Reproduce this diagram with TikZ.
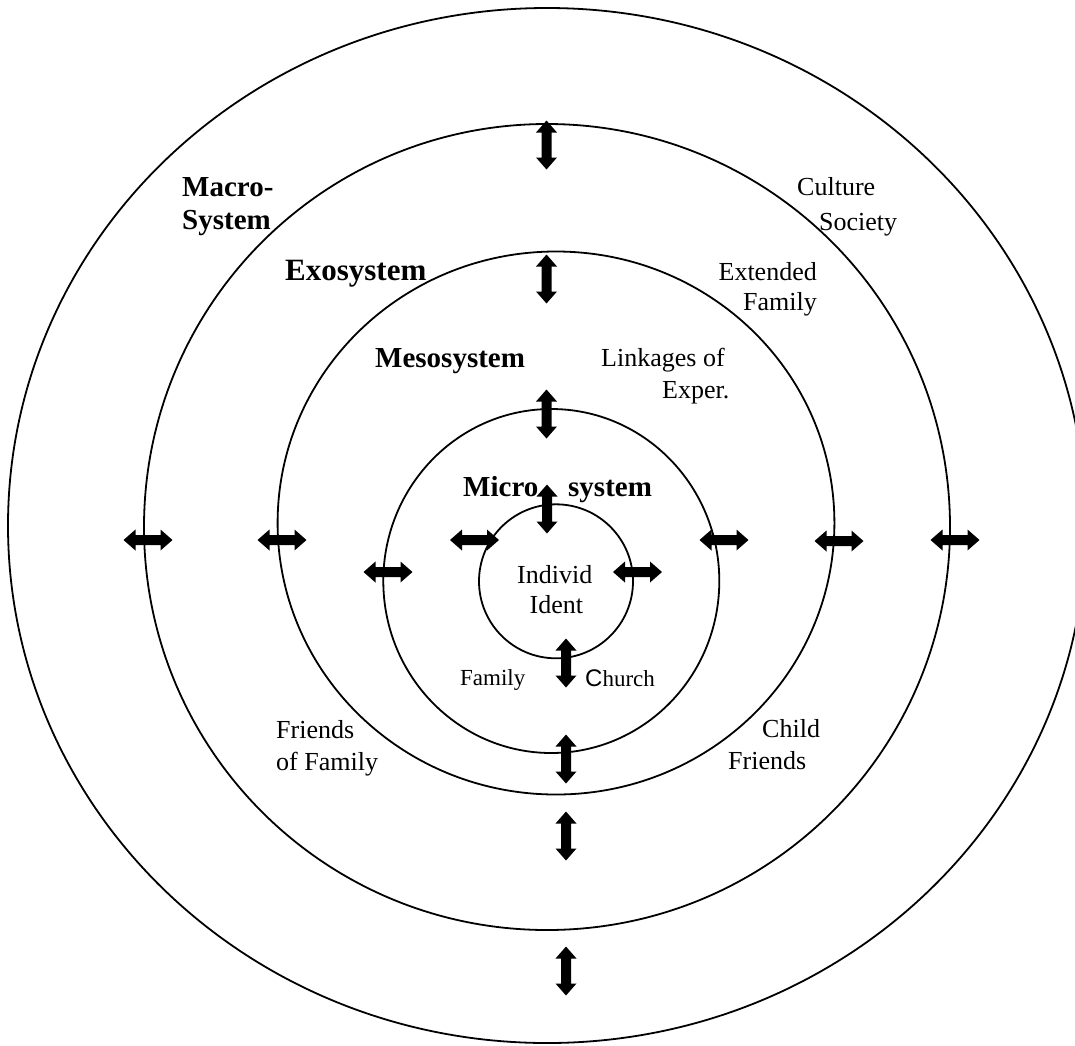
\documentclass[tikz,border=0pt]{standalone}
\usepackage{fontspec}
\setmainfont{Liberation Serif}
\newfontfamily\arialfont{Liberation Sans}
\begin{document}
\begin{tikzpicture}[x=1pt,y=-1pt,
  ring/.style={line width=1.8},
  lbl/.style={inner sep=0pt,anchor=base west,font=\fontsize{26}{30}\selectfont},
  lble/.style={lbl,anchor=base east},
  blbl/.style={inner sep=0pt,anchor=base west,font=\fontsize{29}{33}\selectfont\bfseries},
  harr/.pic={\fill[black] (-24.5,0) -- (-12.5,-10.5) -- (-12.5,-5) -- (12.5,-5) -- (12.5,-10.5) -- (24.5,0) -- (12.5,10.5) -- (12.5,5) -- (-12.5,5) -- (-12.5,10.5) -- cycle;},
  varr/.pic={\fill[black] (0,-24.5) -- (-10.5,-12.5) -- (-5,-12.5) -- (-5,12.5) -- (-10.5,12.5) -- (0,24.5) -- (10.5,12.5) -- (5,12.5) -- (5,-12.5) -- (10.5,-12.5) -- cycle;}
]
\fill[white] (0,0) rectangle (1075,1045);
\useasboundingbox (0,0) rectangle (1075,1045);
\begin{scope}
\clip (0,0) rectangle (1075,1045);
\draw[ring] (547,525.5) ellipse [x radius=539, y radius=517.5];
\end{scope}
\draw[ring] (547,527) circle [radius=403];
\draw[ring] (556,523) ellipse [x radius=278.4, y radius=271.5];
\draw[ring] (551.3,581) ellipse [x radius=168, y radius=172];
\draw[ring] (556,581.3) circle [radius=77];
% horizontal arrows
\foreach \p in {(148,540),(282,540),(474.5,540),(724,540),(839,541),(955,540),(388,572),(637.5,572)}
  \pic at \p {harr};
% vertical arrows
\foreach \p in {(546.5,145),(546.5,279),(546.5,414),(547,509),(566,663),(566,759),(566,836),(566,971)}
  \pic at \p {varr};
% labels
\node[blbl] (mac1) at (182,196) {Macro-};
\node[blbl] (mac2) at (182,229) {System};
\node[blbl,font=\fontsize{31}{35}\selectfont\bfseries] (exo) at (285,280) {Exosystem};
\node[blbl] (meso) at (375,367) {Mesosystem};
\node[blbl] (micro) at (463,496) {Micro};
\node[blbl] (sys) at (568,496) {system};
\node[lbl] (cul) at (797,195) {Culture};
\node[lbl] (soc) at (819,230) {Society};
\node[lble] (ext) at (817,280) {Extended};
\node[lble] (efam) at (817,310) {Family};
\node[lbl] (link) at (601,366) {Linkages of};
\node[lbl] (exper) at (662,398) {Exper.};
\node[lbl] (ind) at (517,583) {Individ};
\node[lbl] (ident) at (529.5,613) {Ident};
\node[lbl,font=\fontsize{23}{27}\selectfont] (fam) at (460,685) {Family};
\node[lbl,font=\fontsize{23}{27}\selectfont] (church) at (585,686) {{\arialfont\fontsize{24}{28}\selectfont C}hurch};
\node[lbl] (fr1) at (276,738) {Friends};
\node[lbl] (fr2) at (276,770) {of Family};
\node[lbl] (ch1) at (762,737.5) {Child};
\node[lbl] (ch2) at (728,769.5) {Friends};
\end{tikzpicture}
\end{document}
